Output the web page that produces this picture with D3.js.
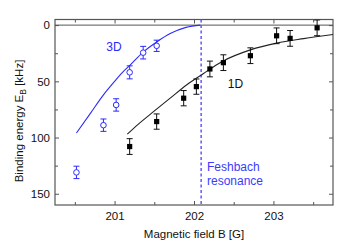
<!DOCTYPE html>
<html><head><meta charset="utf-8">
<script src="https://cdn.jsdelivr.net/npm/d3@7"></script>
<style>
html,body{margin:0;padding:0;background:#fff;}
svg{display:block;font-family:"Liberation Sans",Arial,sans-serif;}
</style></head>
<body><svg id="c" width="352" height="243"></svg>
<script>
// ---- data ----
const b3D   = [200.52, 200.86, 201.02, 201.19, 201.36, 201.53];
const e3D   = [131, 89, 71, 42, 24.5, 18.4];
const err3D = [5.5, 5.5, 5.5, 5.8, 5.6, 5];

const b1D   = [201.19, 201.53, 201.87, 202.03, 202.2, 202.37, 202.71, 203.04, 203.21, 203.55];
const e1D   = [108, 85.8, 65, 54.7, 39, 33.4, 27.2, 9.5, 11.8, 2.4];
const err1D = [7, 6.8, 6.8, 6.8, 7, 7, 7, 7, 7, 7];

const fit3DB = [200.52, 200.7, 200.86, 201.0, 201.1, 201.19, 201.36, 201.53, 201.7, 201.9, 202.08];
const fit3DE = [96, 78, 62, 50, 42, 36, 24, 15, 7.5, 2, 0];

const fit1DB = [201.16, 201.3, 201.49, 201.7, 201.91, 202.12, 202.35, 202.71, 203.04, 203.38, 203.75];
const fit1DE = [97, 88, 77, 65, 53, 43, 32.5, 22, 16, 12, 8.3];

const resonanceB = 202.09;
const xMajor = [201, 202, 203];
const xMinor = [200.5, 201.5, 202.5, 203.5];
const yMajor = [0, 50, 100, 150];
const yMinor = [25, 75, 125];

// ---- layout ----
const svg = d3.select("#c");
const L = 55, R = 333, T = 19.5, B = 205;
const x = d3.scaleLinear().domain([200.25, 203.75]).range([L, R]);
const y = d3.scaleLinear().domain([-5, 160]).range([T, B]);
const frameCol = "#555";
const blue = "#2a2aff";

svg.append("defs").append("clipPath").attr("id","clip")
  .append("rect").attr("x",L).attr("y",T).attr("width",R-L).attr("height",B-T);

// axes
function styleAxis(g){
  g.select(".domain").remove();
  g.selectAll(".tick line").attr("stroke", frameCol);
  g.selectAll(".tick text").attr("fill","#111").style("font-size","11.5px");
}
svg.append("g").attr("transform",`translate(0,${B})`)
  .call(d3.axisBottom(x).tickValues(xMajor).tickFormat(d3.format("d")).tickSize(-4).tickPadding(7))
  .call(styleAxis);
svg.append("g").attr("transform",`translate(0,${B})`)
  .call(d3.axisBottom(x).tickValues(xMinor).tickFormat("").tickSize(-3))
  .call(styleAxis);
svg.append("g").attr("transform",`translate(0,${T})`)
  .call(d3.axisTop(x).tickValues(xMajor).tickFormat("").tickSize(-4))
  .call(styleAxis);
svg.append("g").attr("transform",`translate(0,${T})`)
  .call(d3.axisTop(x).tickValues(xMinor).tickFormat("").tickSize(-3))
  .call(styleAxis);
svg.append("g").attr("transform",`translate(${L},0)`)
  .call(d3.axisLeft(y).tickValues(yMajor).tickSize(-4).tickPadding(5))
  .call(styleAxis);
svg.append("g").attr("transform",`translate(${L},0)`)
  .call(d3.axisLeft(y).tickValues(yMinor).tickFormat("").tickSize(-3))
  .call(styleAxis);
svg.append("g").attr("transform",`translate(${R},0)`)
  .call(d3.axisRight(y).tickValues(yMajor).tickFormat("").tickSize(-4))
  .call(styleAxis);
svg.append("g").attr("transform",`translate(${R},0)`)
  .call(d3.axisRight(y).tickValues(yMinor).tickFormat("").tickSize(-3))
  .call(styleAxis);

// zero line
svg.append("line").attr("x1",L).attr("x2",R).attr("y1",y(0)).attr("y2",y(0))
  .attr("stroke",frameCol).attr("stroke-width",1);

// frame
svg.append("rect").attr("x",L).attr("y",T).attr("width",R-L).attr("height",B-T)
  .attr("fill","none").attr("stroke",frameCol).attr("stroke-width",1.2);

const plot = svg.append("g").attr("clip-path","url(#clip)");

// resonance line
plot.append("line").attr("x1",x(resonanceB)).attr("x2",x(resonanceB)).attr("y1",T).attr("y2",B)
  .attr("stroke","#6464ff").attr("stroke-width",1.6).attr("stroke-dasharray","3,2.5");

// fit curves
const line = d3.line().x(d=>x(d[0])).y(d=>y(d[1])).curve(d3.curveMonotoneX);
plot.append("path").datum(d3.zip(fit3DB, fit3DE)).attr("d",line)
  .attr("fill","none").attr("stroke",blue).attr("stroke-width",1.1);
plot.append("path").datum(d3.zip(fit1DB, fit1DE)).attr("d",line)
  .attr("fill","none").attr("stroke","#222").attr("stroke-width",1.1);

// error bars
function errBars(bs, es, errs, col){
  const g = plot.append("g").attr("stroke",col).attr("stroke-width",1);
  bs.forEach((b,i)=>{
    const cx = x(b), y0 = y(es[i]-errs[i]), y1 = y(es[i]+errs[i]);
    g.append("line").attr("x1",cx).attr("x2",cx).attr("y1",y0).attr("y2",y1);
    g.append("line").attr("x1",cx-3).attr("x2",cx+3).attr("y1",y0).attr("y2",y0);
    g.append("line").attr("x1",cx-3).attr("x2",cx+3).attr("y1",y1).attr("y2",y1);
  });
}
errBars(b3D, e3D, err3D, blue);
errBars(b1D, e1D, err1D, "#111");

// markers
plot.selectAll("circle.p3").data(d3.zip(b3D, e3D)).join("circle")
  .attr("cx",d=>x(d[0])).attr("cy",d=>y(d[1])).attr("r",2.8)
  .attr("fill","#fff").attr("stroke",blue).attr("stroke-width",1);
plot.selectAll("rect.p1").data(d3.zip(b1D, e1D)).join("rect")
  .attr("x",d=>x(d[0])-2.6).attr("y",d=>y(d[1])-2.6).attr("width",5.2).attr("height",5.2)
  .attr("fill","#000");

// annotations
svg.append("text").attr("x",114).attr("y",51).attr("text-anchor","middle")
  .attr("fill",blue).style("font-size","12px").text("3D");
svg.append("text").attr("x",235.5).attr("y",88).attr("text-anchor","middle")
  .attr("fill","#111").style("font-size","12px").text("1D");
svg.append("text").attr("x",207).attr("y",171).attr("fill","#3a3aff")
  .style("font-size","12px").text("Feshbach");
svg.append("text").attr("x",207).attr("y",185).attr("fill","#3a3aff")
  .style("font-size","12px").text("resonance");

// axis titles
svg.append("text").attr("x",(L+R)/2 - 0).attr("y",238).attr("text-anchor","middle")
  .attr("fill","#111").style("font-size","11.5px").text("Magnetic field B [G]");
const yt = svg.append("text").attr("transform","translate(23,121) rotate(-90)")
  .attr("text-anchor","middle").attr("fill","#111").style("font-size","11.5px");
yt.append("tspan").text("Binding energy E");
yt.append("tspan").attr("dy",3).style("font-size","8.5px").text("B");
yt.append("tspan").attr("dy",-3).text(" [kHz]");
</script></body></html>
